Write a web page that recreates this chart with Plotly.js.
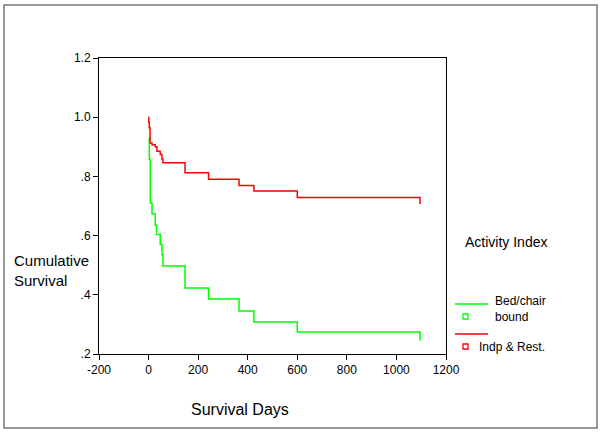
<!DOCTYPE html>
<html>
<head>
<meta charset="utf-8">
<script src="https://cdn.plot.ly/plotly-3.0.1.min.js"></script>
<style>html,body{margin:0;padding:0;background:#fff;}#chart{width:600px;height:434px;}</style>
</head>
<body>
<div id="chart"></div>
<script>
// Kaplan-Meier step data
const bedDays   = [0, 3, 7, 14, 27, 32, 47, 54, 58, 147, 242, 365, 425, 600, 1095, 1095];
const bedSurv   = [0.93, 0.857, 0.71, 0.674, 0.635, 0.604, 0.57, 0.536, 0.497, 0.423, 0.386, 0.345, 0.308, 0.274, 0.274, 0.245];
const indpDays  = [0, 1, 3, 6, 14, 27, 34, 47, 54, 58, 147, 242, 365, 425, 600, 1095, 1095];
const indpSurv  = [1.0, 0.983, 0.964, 0.913, 0.907, 0.90, 0.885, 0.874, 0.859, 0.846, 0.812, 0.79, 0.769, 0.751, 0.729, 0.729, 0.707];
const seriesNames = ['Bed/chair<br>bound', 'Indp & Rest.'];
const seriesColors = ['#00ff00', '#ff0000'];
const xTicks = [-200, 0, 200, 400, 600, 800, 1000, 1200];
const yTickVals = [0.2, 0.4, 0.6, 0.8, 1.0, 1.2];
const yTickText = ['.2', '.4', '.6', '.8', '1.0', '1.2'];

const W = 600, H = 434;
const L = 99, R = 446, T = 58, B = 354;
const px = x => (x - L) / (R - L);
const py = y => (B - y) / (B - T);

const FONT = 'Liberation Sans, Arial, Helvetica, sans-serif';

const traces = [
  {x: bedDays, y: bedSurv, mode: 'lines', line: {shape: 'hv', color: seriesColors[0], width: 1.5}, showlegend: false, hoverinfo: 'skip'},
  {x: indpDays, y: indpSurv, mode: 'lines', line: {shape: 'hv', color: seriesColors[1], width: 1.5}, showlegend: false, hoverinfo: 'skip'}
];

const shapes = [
  // outer frame
  {type: 'rect', xref: 'paper', yref: 'paper', x0: px(4), x1: px(597), y0: py(428), y1: py(5), line: {color: '#777', width: 1.5}},
  // legend lines
  {type: 'line', xref: 'paper', yref: 'paper', x0: px(455), x1: px(488), y0: py(304), y1: py(304), line: {color: seriesColors[0], width: 1.5}},
  {type: 'line', xref: 'paper', yref: 'paper', x0: px(455), x1: px(488), y0: py(334), y1: py(334), line: {color: seriesColors[1], width: 1.5}},
  // legend squares
  {type: 'rect', xref: 'paper', yref: 'paper', x0: px(463), x1: px(468), y0: py(319), y1: py(314), line: {color: seriesColors[0], width: 1.3}},
  {type: 'rect', xref: 'paper', yref: 'paper', x0: px(463), x1: px(468), y0: py(349), y1: py(344), line: {color: seriesColors[1], width: 1.3}}
];

const annotations = [
  {xref: 'paper', yref: 'paper', x: px(12), y: py(270), xanchor: 'left', yanchor: 'middle', align: 'left', showarrow: false,
   text: 'Cumulative<br>Survival', font: {family: FONT, size: 15, color: '#000'}},
  {xref: 'paper', yref: 'paper', x: px(240), y: py(409), xanchor: 'center', yanchor: 'middle', showarrow: false,
   text: 'Survival Days', font: {family: FONT, size: 16, color: '#000'}},
  {xref: 'paper', yref: 'paper', x: px(463), y: py(242), xanchor: 'left', yanchor: 'middle', showarrow: false,
   text: 'Activity Index', font: {family: FONT, size: 14, color: '#000'}},
  {xref: 'paper', yref: 'paper', x: px(493), y: py(309), xanchor: 'left', yanchor: 'middle', align: 'left', showarrow: false,
   text: seriesNames[0], font: {family: FONT, size: 12, color: '#000'}},
  {xref: 'paper', yref: 'paper', x: px(477), y: py(347), xanchor: 'left', yanchor: 'middle', align: 'left', showarrow: false,
   text: seriesNames[1], font: {family: FONT, size: 12, color: '#000'}}
];

const layout = {
  width: W, height: H,
  margin: {l: L, r: W - R, t: T, b: H - B, pad: 0},
  paper_bgcolor: '#fff', plot_bgcolor: '#fff',
  font: {family: FONT, size: 12, color: '#000'},
  xaxis: {range: [-200, 1200], tickvals: xTicks, ticktext: xTicks.map(String), showgrid: false, zeroline: false,
          showline: true, linecolor: '#000', linewidth: 1, mirror: true, ticks: 'outside', ticklen: 5, tickcolor: '#000',
          tickfont: {family: FONT, size: 12, color: '#000'}},
  yaxis: {range: [0.2, 1.2], tickvals: yTickVals, ticktext: yTickText, showgrid: false, zeroline: false,
          showline: true, linecolor: '#000', linewidth: 1, mirror: true, ticks: 'outside', ticklen: 5, tickcolor: '#000',
          tickfont: {family: FONT, size: 12, color: '#000'}},
  shapes: shapes,
  annotations: annotations,
  showlegend: false
};

Plotly.newPlot('chart', traces, layout, {staticPlot: true, displayModeBar: false});
</script>
</body>
</html>
